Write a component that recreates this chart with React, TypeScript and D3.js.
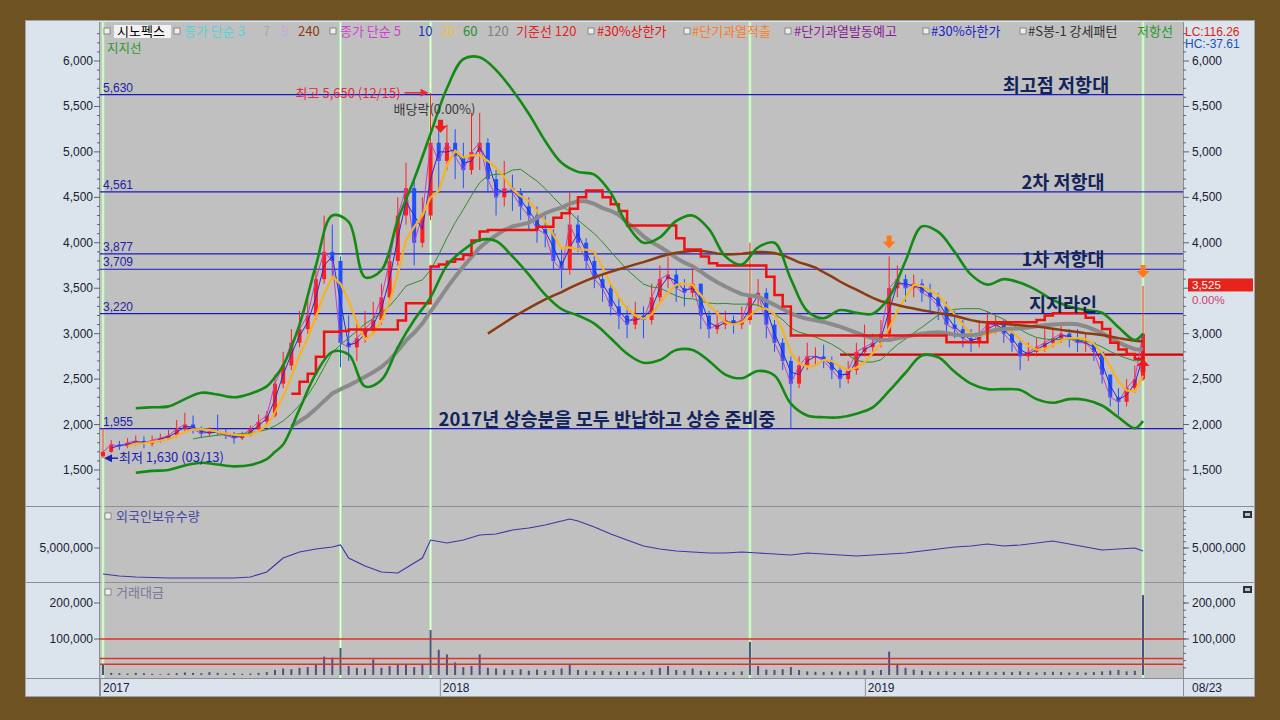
import React from "react";
import * as d3 from "d3";

// ---------- weekly price data (week index 0 = 2017-03-13) ----------
const firstOpen = 1650;
const closes = [
  1700, 1780, 1760, 1800, 1820, 1790, 1830, 1850, 1880, 1950,
  2000, 1950, 1900, 1920, 1910, 1880, 1850, 1880, 1950, 2030,
  2100, 2450, 2650, 2900, 3050, 3200, 3600, 3900, 3800, 2900,
  2850, 2950, 3050, 3150, 3400, 3800, 4300, 4600, 4000, 4300,
  5100, 4900, 5100, 4950, 4800, 5000, 5100, 4700, 4500, 4600,
  4550, 4400, 4300, 4150, 4100, 3800, 3700, 4200, 4000, 3800,
  3600, 3500, 3300, 3200, 3100, 3200, 3150, 3400, 3600, 3650,
  3500, 3450, 3550, 3200, 3050, 3100, 3150, 3100, 3150, 3400,
  3450, 3100, 2900, 2700, 2450, 2650, 2750, 2750, 2700, 2600,
  2500, 2600, 2800, 2850, 2900, 3000, 3500, 3600, 3500, 3550,
  3450, 3400, 3300, 3100, 3050, 2950, 2900, 3000, 3100, 3100,
  3000, 2900, 2750, 2800, 2850, 2900, 2950, 3000, 2950, 2900,
  2900, 2800, 2550, 2300, 2250, 2400, 2500, 3000,
];
const highs = [
  1960, 1830, 1820, 1850, 1880, 1870, 1880, 1900, 1940, 2050,
  2130, 2100, 1980, 1970, 2110, 1950, 1920, 1920, 1990, 2110,
  2150, 2550, 2800, 3050, 3250, 3400, 3750, 4300, 4200, 3850,
  3200, 3150, 3250, 3350, 3550, 3950, 4500, 4880, 4700, 4500,
  5650, 5350, 5300, 5250, 5100, 5430, 5430, 5150, 4800, 4900,
  4750, 4600, 4500, 4400, 4300, 4150, 3950, 4550, 4300, 4050,
  3850, 3650, 3550, 3400, 3300, 3350, 3300, 3550, 3750, 3850,
  3700, 3600, 3750, 3550, 3250, 3250, 3250, 3200, 3300, 4000,
  3600, 3500, 3150, 2950, 2750, 2750, 2900, 2850, 2880, 2750,
  2650, 2700, 2900, 3100, 3000, 3150, 3850, 3750, 3650, 3650,
  3600, 3550, 3450, 3350, 3250, 3150, 3050, 3150, 3250, 3200,
  3150, 3050, 2950, 2900, 2950, 3050, 3050, 3100, 3050, 3050,
  3000, 2900, 2800, 2550, 2400, 2500, 2650, 3525,
];
const lows = [
  1630, 1690, 1720, 1740, 1770, 1740, 1760, 1800, 1830, 1860,
  1920, 1900, 1860, 1870, 1880, 1840, 1790, 1830, 1870, 1930,
  1990, 2080, 2400, 2600, 2850, 3000, 3150, 3550, 3600, 2630,
  2700, 2700, 2900, 3000, 3100, 3350, 3750, 4200, 3750, 3950,
  4250, 4550, 4800, 4700, 4600, 4750, 4800, 4550, 4300, 4400,
  4350, 4250, 4150, 4000, 3950, 3700, 3500, 3650, 3900, 3700,
  3500, 3350, 3200, 3050, 2950, 3050, 2950, 3100, 3350, 3500,
  3350, 3300, 3400, 3050, 2950, 3000, 3050, 3000, 3050, 3100,
  3300, 2950, 2800, 2600, 1960, 2400, 2600, 2650, 2620, 2500,
  2400, 2450, 2550, 2750, 2800, 2850, 2950, 3400, 3350, 3400,
  3350, 3250, 3150, 2950, 2950, 2850, 2800, 2850, 2950, 3000,
  2900, 2800, 2600, 2700, 2750, 2800, 2850, 2900, 2850, 2800,
  2800, 2700, 2450, 2200, 2100, 2200, 2350, 2480,
];

// ---------- envelope bands (green) ----------
const bandWeeks = [4, 6, 8, 10, 12, 14, 16, 18, 20, 21, 22, 24, 26, 28, 30, 32, 34, 36, 38, 40, 42, 44, 46, 48, 50, 52, 54, 56, 58, 60, 62, 64, 66, 68, 70, 72, 74, 76, 78, 80, 82, 84, 86, 88, 90, 92, 94, 96, 98, 100, 102, 104, 106, 108, 110, 112, 114, 116, 118, 120, 122, 124, 126, 127];
const upperBand = [2180, 2190, 2200, 2280, 2350, 2330, 2300, 2340, 2420, 2520, 2650, 3100, 3750, 4300, 4230, 3620, 3700, 4250, 4700, 5200, 5700, 6020, 6040, 5900, 5680, 5420, 5120, 4880, 4780, 4750, 4550, 4200, 4000, 4060, 4240, 4300, 4150, 3850, 3760, 3950, 4000, 3600, 3250, 3170, 3260, 3230, 3220, 3400, 3800, 4180, 4120, 3900, 3650, 3540, 3600, 3560, 3480, 3370, 3300, 3260, 3230, 3070, 2930, 3000];
const lowerBand = [1470, 1490, 1500, 1550, 1580, 1560, 1540, 1555, 1620, 1700, 1780, 2170, 2560, 2800, 2770, 2420, 2490, 2850, 3150, 3400, 3750, 3920, 4030, 4020, 3850, 3650, 3430, 3270, 3200, 3110, 2950, 2780, 2680, 2710, 2820, 2820, 2700, 2550, 2510, 2590, 2540, 2230, 2100, 2080, 2080, 2120, 2190, 2370, 2570, 2760, 2740, 2580, 2450, 2390, 2390, 2380, 2280, 2240, 2280, 2270, 2210, 2080, 1960, 2040];

// ---------- foreign holdings ----------
const foreignWeeks = [0, 2, 4, 8, 12, 16, 18, 20, 21, 22, 24, 26, 28, 29, 30, 32, 34, 36, 38, 39, 40, 42, 44, 46, 48, 50, 52, 54, 56, 57, 58, 60, 62, 64, 66, 68, 70, 72, 74, 76, 78, 80, 82, 84, 86, 88, 90, 92, 94, 96, 98, 100, 102, 104, 106, 108, 110, 112, 114, 116, 118, 120, 122, 124, 126, 127];
const foreignHold = [3960000, 3880000, 3840000, 3800000, 3800000, 3800000, 3840000, 4040000, 4320000, 4600000, 4840000, 4960000, 5040000, 5120000, 4600000, 4280000, 4040000, 4000000, 4400000, 4600000, 5320000, 5200000, 5320000, 5520000, 5560000, 5720000, 5800000, 5920000, 6080000, 6160000, 6080000, 5840000, 5560000, 5320000, 5080000, 4960000, 4880000, 4840000, 4800000, 4800000, 4840000, 4800000, 4760000, 4720000, 4800000, 4760000, 4720000, 4680000, 4720000, 4760000, 4800000, 4880000, 4960000, 5040000, 5080000, 5160000, 5080000, 5120000, 5200000, 5280000, 5160000, 5040000, 4920000, 4960000, 5000000, 4880000];

// ---------- trading value ----------
const tradeValue = [
  30000, 6000, 5000, 4000, 6000, 5000, 3000, 2000, 4000, 5000,
  7000, 6000, 5000, 8000, 6000, 4000, 5000, 3000, 4000, 6000,
  8000, 14000, 18000, 16000, 20000, 22000, 28000, 51000, 48000, 75000,
  25000, 20000, 18000, 43000, 20000, 25000, 28000, 30000, 22000, 30000,
  125000, 70000, 57000, 35000, 22000, 25000, 57000, 20000, 18000, 15000,
  14000, 16000, 12000, 15000, 12000, 14000, 18000, 30000, 14000, 12000,
  10000, 12000, 10000, 9000, 11000, 10000, 9000, 15000, 20000, 25000,
  14000, 12000, 18000, 12000, 10000, 9000, 8000, 9000, 10000, 92000,
  25000, 15000, 14000, 16000, 22000, 14000, 10000, 9000, 8000, 9000,
  10000, 9000, 12000, 15000, 12000, 14000, 65000, 30000, 20000, 15000,
  12000, 10000, 9000, 10000, 8000, 9000, 8000, 10000, 9000, 8000,
  9000, 8000, 10000, 8000, 7000, 8000, 9000, 8000, 7000, 8000,
  7000, 8000, 10000, 12000, 14000, 10000, 12000, 222000,
];
const tradeRefLines = [100000, 46000, 30000];

// ---------- levels, ticks, signals ----------
const levelValues = [5630, 4561, 3877, 3709, 3220, 1955];
const supportValue = 2770;
const supportStartWeek = 90;
const priceTicks = [1500, 2000, 2500, 3000, 3500, 4000, 4500, 5000, 5500, 6000];
const foreignTicks = [5000000];
const tradeTicks = [100000, 200000];
const yearTicks = [
  { label: "2017", week: 0 },
  { label: "2018", week: 41.5 },
  { label: "2019", week: 93.4 },
];
const lastDateLabel = "08/23";
const signalWeeks = [0, 29, 40, 79, 127];
const highWeek = 40;
const lowWeek = 0;
const warnWeeks = [96, 127];

const annotations = [
  { text: "최고점 저항대", value: 5630, cx: 1056 },
  { text: "2차 저항대", value: 4561, cx: 1063 },
  { text: "1차 저항대", value: 3709, cx: 1063 },
  { text: "지지라인", value: 3220, cx: 1063 },
  { text: "2017년 상승분을 모두 반납하고 상승 준비중", value: 1955, cx: 607 },
];

const legendItems = [
  { t: "시노펙스", c: "#000000", x: 117, bg: true },
  { t: "종가 단순 3", c: "#58d0d8", x: 184 },
  { t: "7", c: "#a8a8a8", x: 263 },
  { t: "9", c: "#c8a8e0", x: 281 },
  { t: "240", c: "#8b3a10", x: 298 },
  { t: "종가 단순 5", c: "#d040d0", x: 340 },
  { t: "10", c: "#2030c0", x: 418 },
  { t: "20", c: "#f0c040", x: 441 },
  { t: "60", c: "#2e8b2e", x: 463 },
  { t: "120", c: "#808080", x: 487 },
  { t: "기준선 120", c: "#e82020", x: 516 },
  { t: "#30%상한가", c: "#e81010", x: 597 },
  { t: "#단기과열적출", c: "#ff7a20", x: 692 },
  { t: "#단기과열발동예고", c: "#8a1a9a", x: 794 },
  { t: "#30%하한가", c: "#2020c8", x: 931 },
  { t: "#S봉-1 강세패턴", c: "#303030", x: 1028 },
  { t: "저항선", c: "#2a9a2a", x: 1137 },
];
const legendBoxes = [104, 174, 330, 588, 684, 785, 923, 1020];

const FONT = "'Noto Sans CJK KR', 'Noto Sans', sans-serif";
const NUM = "'Liberation Sans', 'DejaVu Sans', sans-serif";

const PL = 100, PR = 1183;
const P1 = { t: 22, b: 506 };
const P2 = { t: 507, b: 582 };
const P3 = { t: 583, b: 678 };

function fmt(v: number) {
  return d3.format(",")(v);
}

export default function App() {
  const x = d3.scaleLinear().domain([0, 127]).range([103, 1143]);
  const y = d3.scaleLinear().domain([1500, 6000]).range([470, 61]);
  const yF = d3.scaleLinear().domain([3640000, 6640000]).range([582, 507]);
  const yV = d3.scaleLinear().domain([0, 200000]).range([675, 603]);

  const opens = closes.map((c, i) => (i === 0 ? firstOpen : closes[i - 1]));

  const ma = (n: number) =>
    closes.map((_, i) => [i, i < n - 1 ? null : (d3.mean(closes.slice(i - n + 1, i + 1)) as number)] as [number, number | null]);
  const kijun = closes.map((_, i) => [
    i,
    i < 23 ? null : ((d3.max(highs.slice(i - 23, i + 1)) as number) + (d3.min(lows.slice(i - 23, i + 1)) as number)) / 2,
  ] as [number, number | null]);

  const pl = d3
    .line<[number, number | null]>()
    .defined((d) => d[1] != null)
    .x((d) => x(d[0]))
    .y((d) => y(d[1] as number));
  const plStep = d3
    .line<[number, number | null]>()
    .defined((d) => d[1] != null)
    .x((d) => x(d[0]))
    .y((d) => y(d[1] as number))
    .curve(d3.curveStepAfter);
  const plSmooth = d3
    .line<[number, number]>()
    .x((d) => x(d[0]))
    .y((d) => y(d[1]))
    .curve(d3.curveCatmullRom);
  const fl = d3
    .line<[number, number]>()
    .x((d) => x(d[0]))
    .y((d) => yF(d[1]));

  const upperPts = bandWeeks.map((w, i) => [w, upperBand[i]] as [number, number]);
  const lowerPts = bandWeeks.map((w, i) => [w, lowerBand[i]] as [number, number]);
  const foreignPts = foreignWeeks.map((w, i) => [w, foreignHold[i]] as [number, number]);

  const minorPrice = d3.range(1300, 6301, 100);
  const lastClose = highs[highs.length - 1];
  const boxY = y(lastClose);

  const downArrow = (cx: number, tip: number, color: string, key: string) => (
    <path key={key} d={`M${cx - 2.5},${tip - 13}h5v6h4l-6.5,7l-6.5,-7h4z`} fill={color} />
  );
  const upArrow = (cx: number, tip: number, color: string, key: string) => (
    <path key={key} d={`M${cx - 2.5},${tip + 13}h5v-6h4l-6.5,-7l-6.5,7h4z`} fill={color} />
  );

  return (
    <div style={{ position: "absolute", left: 0, top: 0 }}>
      <svg width={1280} height={720} style={{ display: "block" }}>
        <defs>
          <clipPath id="c1">
            <rect x={PL} y={P1.t} width={PR - PL} height={P1.b - P1.t} />
          </clipPath>
          <clipPath id="c2">
            <rect x={PL} y={P2.t} width={PR - PL} height={P2.b - P2.t} />
          </clipPath>
          <clipPath id="c3">
            <rect x={PL} y={P3.t} width={PR - PL} height={P3.b - P3.t} />
          </clipPath>
        </defs>
        {/* backgrounds */}
        <rect x={0} y={0} width={1280} height={720} fill="#6e5222" />
        <rect x={25} y={20} width={1230} height={677} fill="#dbe4ed" />
        <rect x={PL} y={P1.t} width={PR - PL} height={P3.b - P1.t} fill="#c0c0c0" />
        {/* panel separators */}
        {[P1.b + 0.5, P2.b + 0.5, P3.b + 0.5].map((yy, i) => (
          <line key={"sep" + i} x1={25} x2={1255} y1={yy} y2={yy} stroke="#8e8e96" strokeWidth={1} />
        ))}
        <line x1={PL - 0.5} x2={PL - 0.5} y1={P1.t} y2={697} stroke="#8e8e96" />
        <line x1={PR + 0.5} x2={PR + 0.5} y1={P1.t} y2={697} stroke="#8e8e96" />
        <rect x={25.5} y={20.5} width={1229} height={676} fill="none" stroke="#9aa4b0" />

        {/* signal verticals */}
        {signalWeeks.map((w, i) => (
          <g key={"sig" + i}>
            <line x1={x(w)} x2={x(w)} y1={P1.t} y2={P3.b} stroke="#b6ecae" strokeWidth={3} />
            <line x1={x(w)} x2={x(w)} y1={P1.t} y2={P3.b} stroke="#eaffea" strokeWidth={1} />
          </g>
        ))}

        {/* ----- price panel ----- */}
        <g clipPath="url(#c1)">
          {levelValues.map((v, i) => (
            <line key={"lv" + i} x1={PL} x2={PR} y1={y(v)} y2={y(v)} stroke="#1a1ac4" strokeWidth={1.2} />
          ))}
          <line x1={x(supportStartWeek)} x2={PR} y1={y(supportValue)} y2={y(supportValue)} stroke="#d00000" strokeWidth={2.2} />

          {/* candles */}
          {closes.map((c, i) => {
            const o = opens[i];
            const up = c >= o;
            const col = up ? "#ff1e1e" : "#1e50ff";
            const cx = x(i);
            const top = y(Math.max(o, c));
            const h = Math.max(1, Math.abs(y(o) - y(c)));
            return (
              <g key={"cd" + i}>
                <line x1={cx} x2={cx} y1={y(highs[i])} y2={y(lows[i])} stroke={col} strokeWidth={1} />
                <rect x={cx - 2} y={top} width={4} height={h} fill={col} />
              </g>
            );
          })}

          {/* moving averages */}
          <path d={pl(ma(1)) || ""} fill="none" stroke="#c040c8" strokeWidth={1} />
          <path d={pl(ma(2)) || ""} fill="none" stroke="#2a2ad0" strokeWidth={1} />
          <path d={pl(ma(12)) || ""} fill="none" stroke="#2e8b2e" strokeWidth={1} />
          <path d={pl(ma(4)) || ""} fill="none" stroke="#f5b324" strokeWidth={2.2} />
          <path d={pl(ma(24)) || ""} fill="none" stroke="#8a8a8a" strokeWidth={4} />
          <path d={pl(ma(48)) || ""} fill="none" stroke="#8b3a12" strokeWidth={2.5} />
          <path d={plStep(kijun) || ""} fill="none" stroke="#f01010" strokeWidth={2.5} />
          <path d={plSmooth(upperPts) || ""} fill="none" stroke="#138a13" strokeWidth={2.6} />
          <path d={plSmooth(lowerPts) || ""} fill="none" stroke="#138a13" strokeWidth={2.6} />
        </g>

        {/* level labels */}
        {levelValues.map((v, i) => (
          <text key={"lt" + i} x={103} y={y(v) - 3} fontFamily={NUM} fontSize={12} fill="#2020a8">
            {fmt(v)}
          </text>
        ))}
        {/* annotations */}
        {annotations.map((a, i) => (
          <text key={"an" + i} x={a.cx} y={y(a.value) - 3} textAnchor="middle" fontFamily={FONT} fontSize={18.5} fontWeight={700} fill="#13245c">
            {a.text}
          </text>
        ))}

        {/* high / low markers */}
        <text x={x(highWeek) - 30} y={y(highs[highWeek]) + 5} textAnchor="end" fontFamily={FONT} fontSize={13} fill="#e8283c">
          {"최고 " + fmt(highs[highWeek]) + " (12/15)"}
        </text>
        <line x1={x(highWeek) - 26} x2={x(highWeek) - 8} y1={y(highs[highWeek])} y2={y(highs[highWeek])} stroke="#e8283c" strokeWidth={1.5} />
        <path d={`M${x(highWeek) - 2},${y(highs[highWeek])}l-8,-4v8z`} fill="#e8283c" />
        <text x={x(highWeek) - 37} y={y(highs[highWeek]) + 21} fontFamily={FONT} fontSize={13} fill="#3a3a3a">
          배당락(0.00%)
        </text>
        {downArrow(x(highWeek) + 10, y(highs[highWeek]) + 40, "#ee1c1c", "hd")}
        <line x1={x(lowWeek) + 3} x2={x(lowWeek) + 15} y1={y(lows[lowWeek])} y2={y(lows[lowWeek])} stroke="#2020b0" strokeWidth={1.5} />
        <path d={`M${x(lowWeek) + 1},${y(lows[lowWeek])}l8,-4v8z`} fill="#2020b0" />
        <text x={x(lowWeek) + 16} y={y(lows[lowWeek]) + 4} fontFamily={FONT} fontSize={13} fill="#2020b0">
          {"최저 " + fmt(lows[lowWeek]) + " (03/13)"}
        </text>
        {warnWeeks.map((w, i) => downArrow(x(w), y(highs[w]) - 8, "#ff7a1a", "wa" + i))}
        {upArrow(x(127), y(2720), "#ee1c1c", "ua")}

        {/* ----- foreign holdings panel ----- */}
        <g clipPath="url(#c2)">
          <path d={fl(foreignPts) || ""} fill="none" stroke="#3a36a6" strokeWidth={1.1} />
        </g>
        <rect x={105} y={513} width={6} height={6} fill="#eeeeee" stroke="#777" strokeWidth={0.8} />
        <text x={116} y={521} fontFamily={FONT} fontSize={13} fill="#4848a8">
          외국인보유수량
        </text>

        {/* ----- trading value panel ----- */}
        <g clipPath="url(#c3)">
          {tradeValue.map((v, i) => (
            <rect key={"tv" + i} x={x(i) - 1} y={yV(v)} width={2} height={Math.max(0, yV(0) - yV(v))} fill="#4f4f86" />
          ))}
          {tradeRefLines.map((v, i) => (
            <line key={"tr" + i} x1={PL} x2={PR} y1={yV(v)} y2={yV(v)} stroke="#e0302a" strokeWidth={1.6} />
          ))}
        </g>
        <rect x={105} y={589} width={6} height={6} fill="#eeeeee" stroke="#777" strokeWidth={0.8} />
        <text x={116} y={597} fontFamily={FONT} fontSize={13} fill="#78789a">
          거래대금
        </text>

        {/* ----- axes ----- */}
        {minorPrice.filter((v) => y(v) > P1.t + 2 && y(v) < P1.b - 2).map((v) => (
          <g key={"mt" + v}>
            <line x1={PR} x2={PR + (v % 500 === 0 ? 6 : 3)} y1={y(v)} y2={y(v)} stroke="#606070" />
            <line x1={PL - (v % 500 === 0 ? 6 : 3)} x2={PL} y1={y(v)} y2={y(v)} stroke="#606070" />
          </g>
        ))}
        {priceTicks.map((v) => (
          <g key={"pt" + v}>
            <text x={PL - 7} y={y(v) + 4} textAnchor="end" fontFamily={NUM} fontSize={12} fill="#202030">
              {fmt(v)}
            </text>
            {Math.abs(y(v) - boxY) > 12 && (
              <text x={PR + 9} y={y(v) + 4} fontFamily={NUM} fontSize={12} fill="#202030">
                {fmt(v)}
              </text>
            )}
          </g>
        ))}
        {foreignTicks.map((v) => (
          <g key={"ft" + v}>
            <line x1={PL - 6} x2={PL} y1={yF(v)} y2={yF(v)} stroke="#606070" />
            <line x1={PR} x2={PR + 6} y1={yF(v)} y2={yF(v)} stroke="#606070" />
            <text x={PL - 7} y={yF(v) + 4} textAnchor="end" fontFamily={NUM} fontSize={12} fill="#202030">
              {fmt(v)}
            </text>
            <text x={PR + 9} y={yF(v) + 4} fontFamily={NUM} fontSize={12} fill="#202030">
              {fmt(v)}
            </text>
          </g>
        ))}
        {d3.range(4000000, 6500001, 250000).map((v) => (
          <line key={"fm" + v} x1={PR} x2={PR + 3} y1={yF(v)} y2={yF(v)} stroke="#606070" />
        ))}
        {tradeTicks.map((v) => (
          <g key={"vt" + v}>
            <line x1={PL - 6} x2={PL} y1={yV(v)} y2={yV(v)} stroke="#606070" />
            <line x1={PR} x2={PR + 6} y1={yV(v)} y2={yV(v)} stroke="#606070" />
            <text x={PL - 7} y={yV(v) + 4} textAnchor="end" fontFamily={NUM} fontSize={12} fill="#202030">
              {fmt(v)}
            </text>
            <text x={PR + 9} y={yV(v) + 4} fontFamily={NUM} fontSize={12} fill="#202030">
              {fmt(v)}
            </text>
          </g>
        ))}
        {d3.range(20000, 220001, 20000).map((v) => (
          <line key={"vm" + v} x1={PR} x2={PR + 3} y1={yV(v)} y2={yV(v)} stroke="#606070" />
        ))}
        {yearTicks.map((t) => (
          <g key={"yt" + t.label}>
            <line x1={x(t.week) - 2.5} x2={x(t.week) - 2.5} y1={P3.b} y2={697} stroke="#8e8e96" />
            <text x={x(t.week)} y={692} fontFamily={NUM} fontSize={12} fill="#202040">
              {t.label}
            </text>
          </g>
        ))}
        <text x={PR + 9} y={692} fontFamily={NUM} fontSize={12} fill="#202040">
          {lastDateLabel}
        </text>

        {/* current price box */}
        <rect x={PR + 5} y={boxY - 7.5} width={65} height={13} fill="#e8231c" />
        <text x={PR + 9} y={boxY + 3} fontFamily={NUM} fontSize={11.5} fill="#ffffff">
          {fmt(lastClose)}
        </text>
        <text x={PR + 9} y={boxY + 18} fontFamily={NUM} fontSize={11.5} fill="#d0406a">
          0.00%
        </text>

        {/* panel icons */}
        {[511, 586].map((yy) => (
          <g key={"ic" + yy}>
            <rect x={1243} y={yy} width={9} height={7} fill="#303038" />
            <rect x={1245} y={yy + 2} width={5} height={3} fill="#c0c0c8" />
          </g>
        ))}

        {/* legend */}
        {legendBoxes.map((bx, i) => (
          <rect key={"lb" + i} x={bx} y={28} width={6} height={6} fill="#eeeeee" stroke="#777" strokeWidth={0.8} />
        ))}
        {legendItems.map((it, i) => (
          <g key={"li" + i}>
            {it.bg && <rect x={it.x - 3} y={25} width={57} height={13} fill="#f2f2f2" />}
            <text x={it.x} y={36} fontFamily={FONT} fontSize={13} fill={it.c}>
              {it.t}
            </text>
          </g>
        ))}
        <text x={107} y={52.5} fontFamily={FONT} fontSize={12.5} fill="#2a9a2a">
          지지선
        </text>
        <text x={PR + 2} y={36} fontFamily={NUM} fontSize={12} fill="#e02020">
          LC:116.26
        </text>
        <text x={PR + 2} y={48} fontFamily={NUM} fontSize={12} fill="#2050c0">
          HC:-37.61
        </text>
      </svg>
    </div>
  );
}
